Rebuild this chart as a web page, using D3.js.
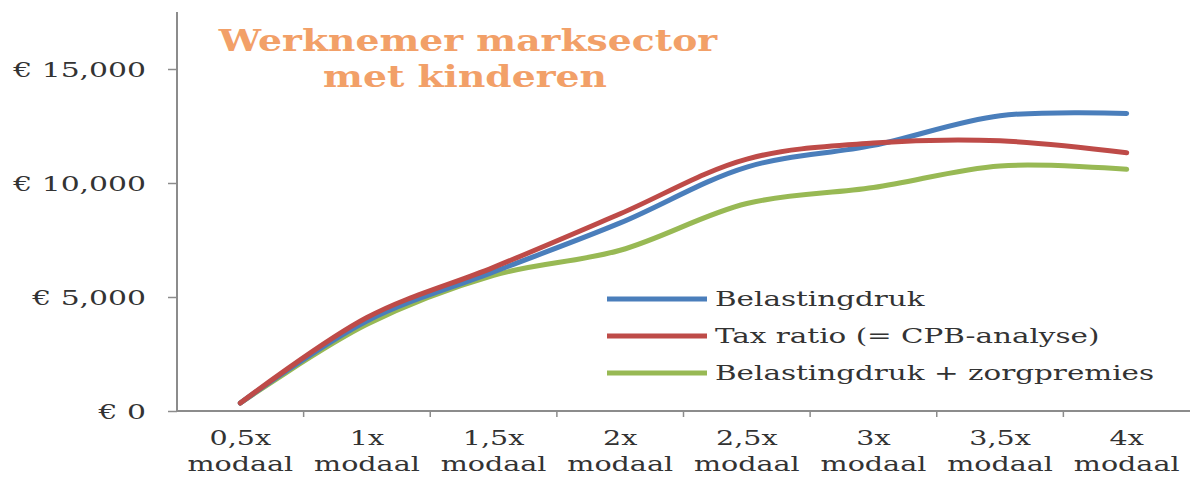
<!DOCTYPE html>
<html>
<head>
<meta charset="utf-8">
<script src="https://cdn.jsdelivr.net/npm/d3@7"></script>
<style>
  html, body { margin: 0; padding: 0; background: #fff; }
  svg { display: block; }
</style>
</head>
<body>
<svg id="chart" width="1190" height="478"></svg>
<script>
// data (euro)
var categories = ['0,5x', '1x', '1,5x', '2x', '2,5x', '3x', '3,5x', '4x'];
var belastingdruk = [350, 3950, 6100, 8250, 10700, 11650, 12950, 13050];
var taxRatio = [350, 4100, 6300, 8650, 11050, 11750, 11850, 11330];
var zorgpremies = [350, 3800, 5950, 7050, 9100, 9800, 10750, 10600];
var seriesNames = ['Belastingdruk', 'Tax ratio (= CPB-analyse)', 'Belastingdruk + zorgpremies'];
var yTicks = [0, 5000, 10000, 15000];

var plotLeft = 177, plotRight = 1190, plotTop = 12, plotBottom = 411;
var serifFont = '"DejaVu Serif", serif';
var axisColor = '#8c8c8c';
var textColor = '#333';
var lineColors = ['#4a7ebb', '#be4b48', '#98b954'];

var svg = d3.select('#chart');

var x = d3.scaleBand().domain(categories).range([plotLeft, plotRight]).padding(0);
var y = d3.scaleLinear().domain([0, 17500]).range([plotBottom, plotTop]);
var cx = function (c) { return x(c) + x.bandwidth() / 2; };

// widen text the way the (horizontally stretched) picture does
function stretch(sel, k) {
  sel.each(function () {
    var w = this.getComputedTextLength();
    d3.select(this).attr('textLength', w * k).attr('lengthAdjust', 'spacingAndGlyphs');
  });
}

// y axis
var yAxis = svg.append('g')
  .attr('transform', 'translate(' + plotLeft + ',0)')
  .call(d3.axisLeft(y).tickValues(yTicks).tickSize(9).tickPadding(22)
    .tickFormat(function (d) { return '\u20ac ' + d3.format(',')(d); }));
yAxis.select('.domain').remove();
yAxis.selectAll('.tick line').attr('stroke', axisColor).attr('stroke-width', 1.5);
yAxis.selectAll('.tick text')
  .attr('font-family', serifFont).attr('font-size', 21).attr('fill', textColor)
  .attr('dy', '0.35em');
stretch(yAxis.selectAll('.tick text'), 1.42);

svg.append('line')
  .attr('x1', plotLeft).attr('x2', plotLeft).attr('y1', plotTop).attr('y2', plotBottom)
  .attr('stroke', axisColor).attr('stroke-width', 2);

// x axis line and tick marks at category boundaries
svg.append('line')
  .attr('x1', plotLeft).attr('x2', plotRight).attr('y1', plotBottom).attr('y2', plotBottom)
  .attr('stroke', axisColor).attr('stroke-width', 2);

svg.append('g').selectAll('line')
  .data(categories.slice(1))
  .enter().append('line')
  .attr('x1', function (d) { return x(d); })
  .attr('x2', function (d) { return x(d); })
  .attr('y1', plotBottom).attr('y2', plotBottom + 6)
  .attr('stroke', axisColor).attr('stroke-width', 1.5);

var xLabels = svg.append('g').selectAll('g')
  .data(categories)
  .enter().append('g')
  .attr('transform', function (d) { return 'translate(' + cx(d) + ',0)'; });

xLabels.append('text')
  .attr('y', 445).attr('text-anchor', 'middle')
  .attr('font-family', serifFont).attr('font-size', 21).attr('fill', textColor)
  .text(function (d) { return d; });
xLabels.append('text')
  .attr('y', 471).attr('text-anchor', 'middle')
  .attr('font-family', serifFont).attr('font-size', 21).attr('fill', textColor)
  .text('modaal');
stretch(xLabels.selectAll('text'), 1.36);

// lines
var allSeries = [belastingdruk, taxRatio, zorgpremies];
var line = d3.line()
  .x(function (d, i) { return cx(categories[i]); })
  .y(function (d) { return y(d); })
  .curve(d3.curveCatmullRom.alpha(0.5));

// green first, so blue and red sit on top like in the picture
[2, 0, 1].forEach(function (s) {
  svg.append('path')
    .datum(allSeries[s])
    .attr('d', line)
    .attr('fill', 'none')
    .attr('stroke', lineColors[s])
    .attr('stroke-width', 5)
    .attr('stroke-linecap', 'round');
});

// title
var title = svg.append('g').attr('font-family', serifFont).attr('font-weight', 'bold')
  .attr('fill', '#f2a068').attr('font-size', 29).attr('text-anchor', 'middle');
title.append('text').attr('x', 468).attr('y', 51).text('Werknemer marksector');
title.append('text').attr('x', 465).attr('y', 87).text('met kinderen');
stretch(title.selectAll('text'), 1.3);

// legend
var legend = svg.append('g').selectAll('g')
  .data(seriesNames)
  .enter().append('g')
  .attr('transform', function (d, i) { return 'translate(607,' + (299 + i * 37) + ')'; });

legend.append('line')
  .attr('x1', 0).attr('x2', 100)
  .attr('stroke', function (d, i) { return lineColors[i]; })
  .attr('stroke-width', 5);

legend.append('text')
  .attr('x', 108).attr('dy', '0.35em')
  .attr('font-family', serifFont).attr('font-size', 21).attr('fill', textColor)
  .text(function (d) { return d; });
stretch(legend.selectAll('text'), 1.4);
</script>
</body>
</html>
